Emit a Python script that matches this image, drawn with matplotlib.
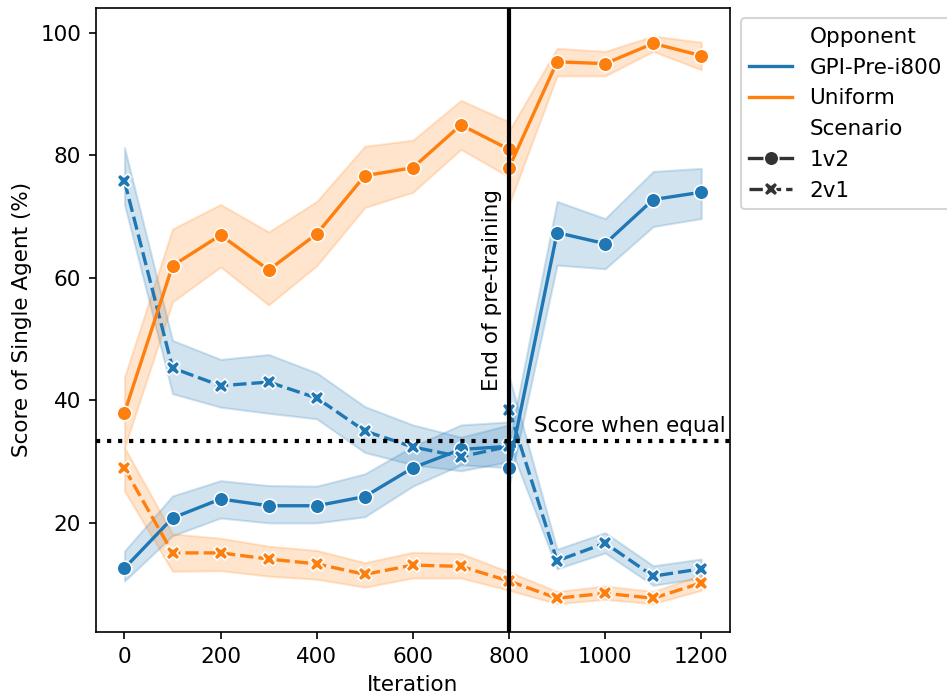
import matplotlib
matplotlib.use("Agg")
import matplotlib.pyplot as plt
from matplotlib.lines import Line2D

plt.rcParams["font.size"] = 10.3

BLUE = "#1f77b4"
ORANGE = "#ff7f0e"

iters_pre = [0, 100, 200, 300, 400, 500, 600, 700, 800]
iters_post = [800, 900, 1000, 1100, 1200]

# GPI-Pre-i800 opponent, 1v2
gpi_1v2_pre = [12.6, 20.8, 23.9, 22.8, 22.8, 24.3, 29.0, 32.0, 32.5]
gpi_1v2_pre_lo = [10.5, 17.9, 20.8, 20.0, 20.0, 21.0, 26.0, 29.5, 29.0]
gpi_1v2_pre_hi = [15.4, 24.4, 26.9, 26.1, 26.0, 28.0, 32.5, 36.0, 36.5]
gpi_1v2_post = [29.0, 67.4, 65.6, 72.8, 74.0]
gpi_1v2_post_lo = [26.0, 62.1, 61.5, 68.4, 69.7]
gpi_1v2_post_hi = [33.0, 72.5, 69.7, 77.4, 77.9]

# GPI-Pre-i800 opponent, 2v1
gpi_2v1_pre = [75.8, 45.3, 42.4, 43.0, 40.4, 35.0, 32.4, 30.8, 32.5]
gpi_2v1_pre_lo = [72.0, 41.1, 38.9, 37.9, 37.0, 31.5, 29.5, 28.5, 30.0]
gpi_2v1_pre_hi = [81.3, 49.8, 46.7, 47.5, 44.5, 39.0, 36.0, 34.0, 36.0]
gpi_2v1_post = [38.5, 13.8, 16.7, 11.3, 12.5]
gpi_2v1_post_lo = [33.0, 12.5, 15.1, 9.8, 11.0]
gpi_2v1_post_hi = [44.0, 15.7, 18.4, 13.0, 14.1]

# Uniform opponent, 1v2
uni_1v2_pre = [38.0, 62.0, 67.0, 61.3, 67.2, 76.7, 78.0, 85.0, 81.0]
uni_1v2_pre_lo = [32.3, 56.1, 61.8, 55.6, 62.0, 71.5, 74.0, 81.0, 76.5]
uni_1v2_pre_hi = [43.8, 68.0, 72.0, 67.5, 72.5, 81.5, 82.5, 89.0, 85.5]
uni_1v2_post = [78.0, 95.3, 95.0, 98.3, 96.3]
uni_1v2_post_lo = [72.0, 93.0, 93.0, 97.0, 94.0]
uni_1v2_post_hi = [84.0, 97.5, 97.0, 99.5, 98.5]

# Uniform opponent, 2v1
uni_2v1_pre = [28.9, 15.1, 15.1, 14.1, 13.3, 11.6, 13.1, 12.9, 10.5]
uni_2v1_pre_lo = [25.2, 12.1, 12.2, 11.3, 10.8, 9.5, 11.0, 11.0, 9.0]
uni_2v1_pre_hi = [32.3, 18.2, 17.5, 16.2, 15.5, 13.5, 15.2, 15.0, 12.0]
uni_2v1_post = [10.5, 7.7, 8.5, 7.7, 10.2]
uni_2v1_post_lo = [9.0, 6.8, 7.5, 6.8, 9.0]
uni_2v1_post_hi = [12.0, 8.8, 9.7, 8.8, 11.5]

EQUAL_SCORE = 100 / 3
PRETRAIN_END = 800


def draw(ax, x, y, lo, hi, color, scenario):
    ax.fill_between(x, lo, hi, color=color, alpha=0.2)
    kw = dict(color=color, lw=1.6, mec="w", mew=0.75, ms=7)
    if scenario == "1v2":
        ax.plot(x, y, marker="o", **kw)
    else:
        ax.plot(x, y, marker="X", dashes=(4, 1.5), **kw)


fig = plt.figure(figsize=(947 / 150, 700 / 150), dpi=150)
ax = fig.add_axes([0.101, 0.097, 0.670, 0.892])

for x, parts in [
    (iters_pre, [
        (gpi_1v2_pre, gpi_1v2_pre_lo, gpi_1v2_pre_hi, BLUE, "1v2"),
        (gpi_2v1_pre, gpi_2v1_pre_lo, gpi_2v1_pre_hi, BLUE, "2v1"),
        (uni_1v2_pre, uni_1v2_pre_lo, uni_1v2_pre_hi, ORANGE, "1v2"),
        (uni_2v1_pre, uni_2v1_pre_lo, uni_2v1_pre_hi, ORANGE, "2v1"),
    ]),
    (iters_post, [
        (gpi_1v2_post, gpi_1v2_post_lo, gpi_1v2_post_hi, BLUE, "1v2"),
        (gpi_2v1_post, gpi_2v1_post_lo, gpi_2v1_post_hi, BLUE, "2v1"),
        (uni_1v2_post, uni_1v2_post_lo, uni_1v2_post_hi, ORANGE, "1v2"),
        (uni_2v1_post, uni_2v1_post_lo, uni_2v1_post_hi, ORANGE, "2v1"),
    ]),
]:
    for y, lo, hi, color, scenario in parts:
        draw(ax, x, y, lo, hi, color, scenario)

ax.axvline(PRETRAIN_END, color="k", lw=2)
ax.axhline(EQUAL_SCORE, color="k", lw=2, linestyle=":")
ax.text(785, 41.5, "End of pre-training", rotation=90, ha="right", va="bottom")
ax.text(852, 34.2, "Score when equal", ha="left", va="bottom")

ax.set_xlabel("Iteration")
ax.set_ylabel("Score of Single Agent (%)")
ax.set_xticks([0, 200, 400, 600, 800, 1000, 1200])

handles = [
    Line2D([], [], color="none", label="Opponent"),
    Line2D([], [], color=BLUE, lw=1.6, label="GPI-Pre-i800"),
    Line2D([], [], color=ORANGE, lw=1.6, label="Uniform"),
    Line2D([], [], color="none", label="Scenario"),
    Line2D([], [], color=".2", lw=1.6, marker="o", mec="w", mew=0.75, ms=7, label="1v2"),
    Line2D([], [], color=".2", lw=1.6, marker="X", mec="w", mew=0.75, ms=7,
           dashes=(4, 1.5), label="2v1"),
]
ax.legend(handles=handles, loc="upper left", bbox_to_anchor=(1, 1))

fig.savefig("out.png", dpi=150)
